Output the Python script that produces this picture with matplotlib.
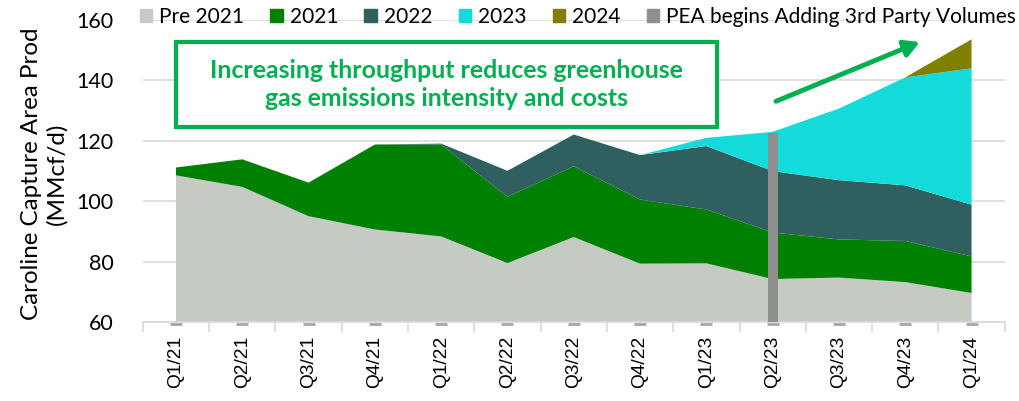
import matplotlib
matplotlib.use("Agg")
import matplotlib.pyplot as plt
import numpy as np
from matplotlib.patches import Patch, Rectangle

quarters = ["Q1/21", "Q2/21", "Q3/21", "Q4/21", "Q1/22", "Q2/22", "Q3/22",
            "Q4/22", "Q1/23", "Q2/23", "Q3/23", "Q4/23", "Q1/24"]
pre_2021 = [108.5, 104.7, 95.0, 90.6, 88.3, 79.5, 88.1, 79.3, 79.4, 74.2, 74.7, 73.2, 69.6]
vol_2021 = [2.6, 9.1, 11.1, 28.1, 30.4, 21.9, 23.4, 21.2, 17.8, 15.4, 12.6, 13.6, 12.1]
vol_2022 = [0, 0, 0, 0, 0.3, 8.6, 10.5, 14.7, 21.0, 20.3, 19.6, 18.4, 17.1]
vol_2023 = [0, 0, 0, 0, 0, 0, 0, 0, 2.7, 13.0, 23.7, 35.7, 45.1]
vol_2024 = [0, 0, 0, 0, 0, 0, 0, 0, 0, 0, 0, 0, 9.6]
pea_quarter = "Q2/23"
pea_value = 122.5

series = ["Pre 2021", "2021", "2022", "2023", "2024"]
colors = ["#C5CBC3", "#008000", "#2F5F5F", "#14DBD9", "#808000"]
pea_color = "#8F8F8F"
green = "#00B050"

plt.rcParams["font.family"] = ["Lato", "DejaVu Sans"]

fig = plt.figure(figsize=(10.2, 4.01), dpi=100)
ax = fig.add_axes([0.140, 0.197, 0.845, 0.754])

x = np.arange(len(quarters))
ax.stackplot(x, pre_2021, vol_2021, vol_2022, vol_2023, vol_2024,
             colors=colors, baseline="zero", lw=0)
ax.bar(quarters.index(pea_quarter), pea_value, width=0.15, color=pea_color, zorder=3)
# little baseline dashes under each category
ax.plot(x, [59.4] * len(x), ls="none", marker="_", ms=8, mew=2, color="#A6A6A6",
        clip_on=False, zorder=4)

ax.set_xlim(-0.5, len(quarters) - 0.5)
ax.set_ylim(60, 160)
ax.set_yticks(range(60, 161, 20))
ax.tick_params(axis="y", length=0, labelsize=15.5, pad=21)
ax.grid(axis="y", color="#D9D9D9", lw=1.2, zorder=0)
ax.set_axisbelow(True)
ax.set_xticks(x)
ax.set_xticklabels(quarters, rotation=90, fontsize=13.8, family="Liberation Sans")
ax.tick_params(axis="x", length=0, pad=10)
ax.set_xticks(np.arange(-0.5, len(quarters)), minor=True)
ax.tick_params(axis="x", which="minor", length=7, color="#D9D9D9", width=1.2)
for s in ["left", "right", "top"]:
    ax.spines[s].set_visible(False)
ax.spines["bottom"].set_color("#D9D9D9")
ax.spines["bottom"].set_linewidth(1.2)

ax.set_ylabel("Caroline Capture Area Prod\n(MMcf/d)", fontsize=17.4, linespacing=1.22)
ax.yaxis.set_label_coords(-0.087, 0.49)

handles = [Patch(color=c, label=s) for s, c in zip(series, colors)]
handles.append(Patch(color=pea_color, label="PEA begins Adding 3rd Party Volumes"))
fig.legend(handles=handles, loc="center left", bbox_to_anchor=(0.137, 0.958),
           ncol=6, frameon=False, fontsize=15, handlelength=0.6, handleheight=0.6,
           handletextpad=0.34, columnspacing=1.25, borderaxespad=0, borderpad=0)

ax.add_patch(Rectangle((0, 124.4), 8.16, 28.2, fc="white", ec=green, lw=3,
                       clip_on=False, zorder=5))
ax.text(4.08, 138.6, "Increasing throughput reduces greenhouse\ngas emissions intensity and costs",
        ha="center", va="center", fontsize=17.9, fontweight="bold", color=green,
        linespacing=1.3, zorder=6)

ax.annotate("", xy=(11.22, 152.6), xytext=(9.05, 133.0),
            arrowprops=dict(arrowstyle="-|>,head_length=0.9,head_width=0.5",
                            color=green, lw=3.5, shrinkA=0, shrinkB=0))

fig.savefig("out.png", dpi=100)
